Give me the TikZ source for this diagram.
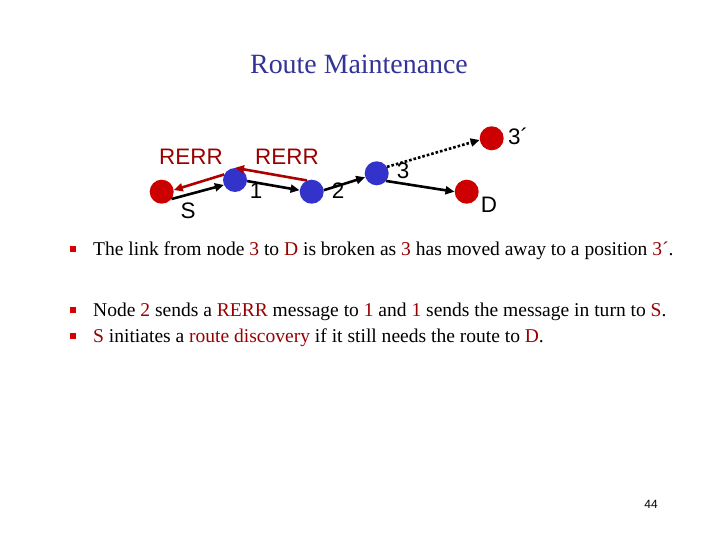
\documentclass[tikz,border=0pt]{standalone}
\usepackage{fontspec}
\setmainfont{Liberation Serif}
\newfontfamily\arial{Liberation Sans}
\usepackage{xcolor}
\usetikzlibrary{arrows.meta, positioning}

\definecolor{nodered}{RGB}{204,0,0}
\definecolor{nodeblue}{RGB}{51,51,204}
\definecolor{txtred}{RGB}{153,0,0}
\definecolor{titleblue}{RGB}{51,51,153}

\begin{document}
\begin{tikzpicture}[x=1bp, y=-1bp,
    every node/.style={inner sep=0pt},
    rnode/.style={circle, fill=nodered, minimum size=24bp},
    bnode/.style={circle, fill=nodeblue, minimum size=24bp},
    lbl/.style={font=\arial\fontsize{22.5}{24}\selectfont},
    arr/.style={-{Triangle[length=9bp,width=8bp]}, line width=2.6bp},
    rarr/.style={arr, txtred!80!red},
    item/.style={anchor=base west, font=\fontsize{19.6}{22}\selectfont},
    bul/.style={fill=red!85!black, minimum size=6bp},
  ]
    \useasboundingbox[fill=white] (0,0) rectangle (720,540);

    % title
    \node[font=\fontsize{28}{30}\selectfont, text=titleblue] (title) at (359,64) {Route Maintenance};

    % network
    \node[rnode] (s)   at (161.7,191.7) {};
    \node[bnode] (n1)  at (235,180) {};
    \node[bnode] (n2)  at (311.7,191.7) {};
    \node[bnode] (n3)  at (376.7,173.3) {};
    \node[rnode] (n3p) at (491.7,138.3) {};
    \node[rnode] (d)   at (466.7,191.7) {};

    \node[lbl] (ls)   at (188,211) {S};
    \node[lbl] (l1)   at (256,191) {1};
    \node[lbl] (l2)   at (338,191) {2};
    \node[lbl] (l3)   at (403,171) {3};
    \node[lbl] (l3p)  at (518,136) {3\char"00B4};
    \node[lbl] (ld)   at (489,205) {D};
    \node[lbl, text=txtred] (rerr1) at (191,157) {RERR};
    \node[lbl, text=txtred] (rerr2) at (287,157) {RERR};

    % forward links
    \draw[arr] (s.-37) -- (n1.-156);
    \draw[arr] (n1.-5) -- (n2.173);
    \draw[arr] (n2.7) -- (n3.-161);
    \draw[arr] (n3.-39) -- (d.180);
    \draw[arr, dotted] (n3.32) -- (n3p.-172);

    % route error
    \draw[rarr] (n2.113) -- (n1.90);
    \draw[rarr] (n1.153) -- (s.8);

    % bullets
    \node[bul] (b1) at (73,249) {};
    \node[bul] (b2) at (73,310) {};
    \node[bul] (b3) at (73,336) {};
    \node[item] (t1) at (93,256) {The link from node \textcolor{txtred}{3} to \textcolor{txtred}{D} is broken as \textcolor{txtred}{3} has moved away to a position \textcolor{txtred}{3\char"00B4}.};
    \node[item] (t2) at (93,316) {Node \textcolor{txtred}{2} sends a \textcolor{txtred}{RERR} message to \textcolor{txtred}{1} and \textcolor{txtred}{1} sends the message in turn to \textcolor{txtred}{S}.};
    \node[item] (t3) at (93,342) {\textcolor{txtred}{S} initiates a \textcolor{txtred}{route discovery} if it still needs the route to \textcolor{txtred}{D}.};

    % page number
    \node[font=\arial\fontsize{12}{14}\selectfont] (pg) at (651,504) {44};
\end{tikzpicture}
\end{document}
